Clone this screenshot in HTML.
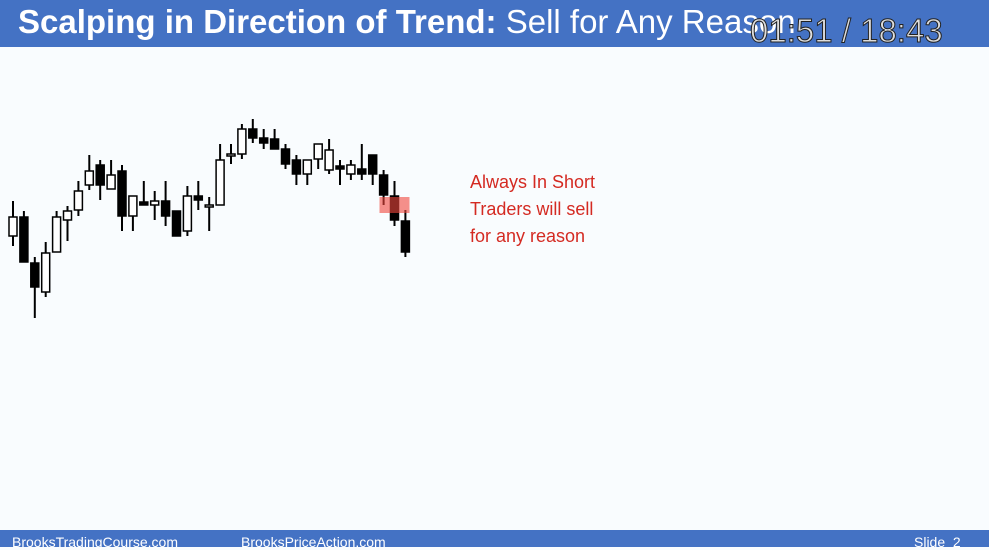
<!DOCTYPE html>
<html><head><meta charset="utf-8"><style>
body{margin:0;width:989px;height:547px;overflow:hidden;background:#f9fcfe;font-family:"Liberation Sans",sans-serif;position:relative}
#hdr{position:absolute;left:0;top:0;width:989px;height:47px;background:#4472c4}
#title{position:absolute;left:18px;top:3px;color:#fff;font-size:33px;white-space:nowrap}
#time{position:absolute;left:750px;top:12px;color:#ddd;font-size:33px;-webkit-text-stroke:1px #222;white-space:nowrap}
#ftr{position:absolute;left:0;top:530px;width:989px;height:17px;background:#4472c4;color:#fff;font-size:14px}
.ann{position:absolute;left:470px;color:#d42a22;font-size:18px}
</style></head><body>
<div id="hdr"></div>
<div id="title"><b>Scalping in Direction of Trend:</b> Sell for Any Reason</div>
<div id="time">01:51 / 18:43</div>
<svg id="chart" width="989" height="547" style="position:absolute;left:0;top:0"></svg>
<div class="ann" style="top:172px">Always In Short</div>
<div class="ann" style="top:199px">Traders will sell</div>
<div class="ann" style="top:226px">for any reason</div>
<div id="ftr">
<span style="position:absolute;left:12px;top:4px">BrooksTradingCourse.com</span>
<span style="position:absolute;left:241px;top:4px">BrooksPriceAction.com</span>
<span style="position:absolute;left:914px;top:4px">Slide&nbsp; 2</span>
</div>
<script>
const opens =[164,183,137,108,148,180,190,215,235,211,229,184,198,195,199,189,169,204,194,195,246,246,271,262,261,251,240,226,241,230,234,226,231,245,225,204,179];
const highs =[199,189,143,158,189,194,219,245,240,240,235,204,219,209,219,189,214,219,203,256,256,276,281,271,271,256,245,240,256,261,240,240,256,245,230,219,190];
const lows  =[154,138,82,103,148,159,184,210,200,211,169,169,195,180,174,164,164,190,169,195,236,241,257,251,251,231,215,215,231,226,215,220,220,215,195,174,143];
const closes=[183,138,113,147,183,189,209,229,215,225,184,204,195,199,184,164,204,200,195,240,246,271,262,257,251,236,226,240,256,250,231,235,226,226,205,180,148];
const highlight={bar:35,top:203,bottom:187};
const X=i=>13+i*10.9, Y=p=>400-p;
const svg=document.getElementById('chart'),NS='http://www.w3.org/2000/svg';
opens.forEach((o,i)=>{
 const g=document.createElementNS(NS,'g');
 
 
 const w=document.createElementNS(NS,'line');
 w.setAttribute('x1',X(i));w.setAttribute('x2',X(i));w.setAttribute('y1',Y(highs[i]));w.setAttribute('y2',Y(lows[i]));
 w.setAttribute('stroke','#000');w.setAttribute('stroke-width','2');g.appendChild(w);
 const c=closes[i],b=document.createElementNS(NS,'rect');
 const top=Y(Math.max(o,c)),bot=Y(Math.min(o,c));
 b.setAttribute('x',X(i)-4);b.setAttribute('width',8);b.setAttribute('y',top);b.setAttribute('height',Math.max(bot-top,2));
 b.setAttribute('fill',c>=o?'#fff':'#000');b.setAttribute('stroke','#000');b.setAttribute('stroke-width','1.5');
 g.appendChild(b);svg.appendChild(g);
});
const hl=document.createElementNS(NS,'rect');


hl.setAttribute('x',X(highlight.bar)-15);hl.setAttribute('width',30);
hl.setAttribute('y',Y(highlight.top));hl.setAttribute('height',Y(highlight.bottom)-Y(highlight.top));
hl.setAttribute('fill','rgba(240,70,60,0.6)');
svg.appendChild(hl);
</script>
</body></html>
